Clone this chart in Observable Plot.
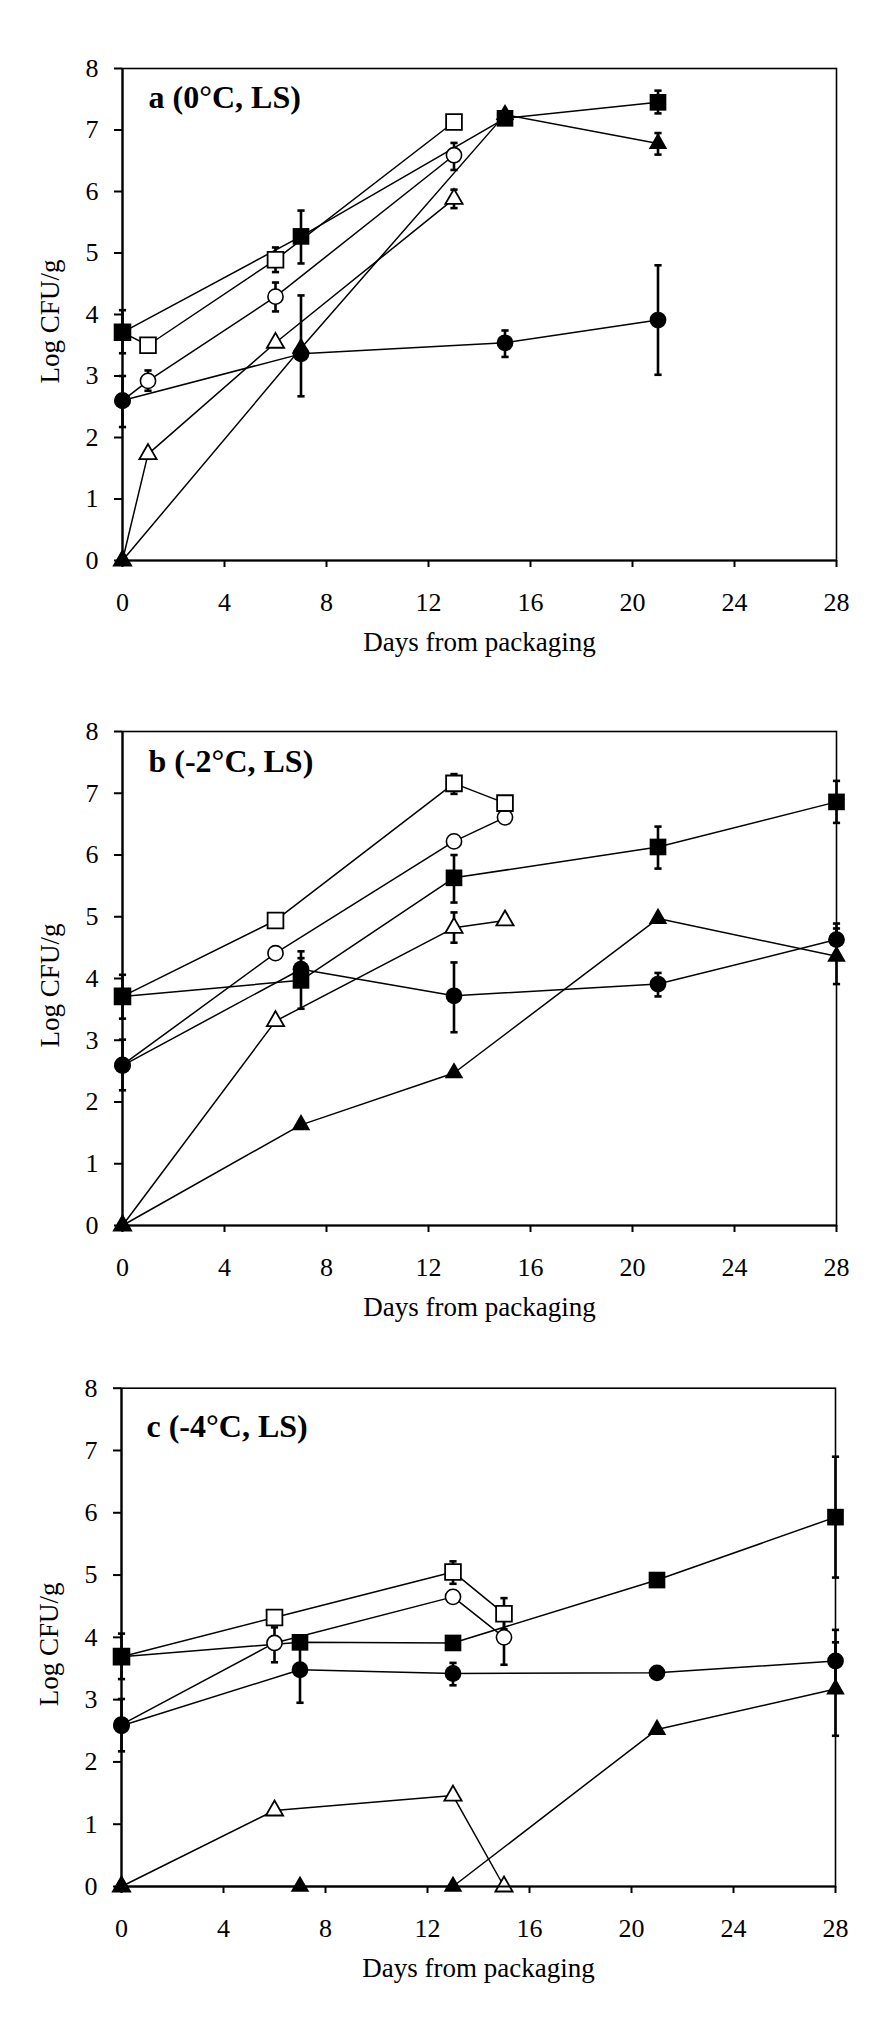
<!DOCTYPE html>
<html>
<head>
<meta charset="utf-8">
<script src="https://cdn.jsdelivr.net/npm/d3@7"></script>
<script src="https://cdn.jsdelivr.net/npm/@observablehq/plot@0.6"></script>
<style>
  html, body { margin: 0; padding: 0; background: #fff; }
  #chart svg { display: block; }
</style>
</head>
<body>
<div id="chart"></div>
<script>
// ---------- tick labels / texts ----------
const xTicks = [0, 4, 8, 12, 16, 20, 24, 28];
const yTicks = [0, 1, 2, 3, 4, 5, 6, 7, 8];
const xLabel = "Days from packaging";
const yLabel = "Log CFU/g";
const panelTitles = ["a (0°C, LS)", "b (-2°C, LS)", "c (-4°C, LS)"];

// ---------- data: [day, log CFU/g, error low, error high] ----------
// Panel a (0°C)
const a_openTriangle = [[0, 0], [1, 1.73], [6, 3.54], [13, 5.88, 5.73, 6.03]];
const a_openCircle   = [[0, 2.60], [1, 2.92, 2.76, 3.09], [6, 4.29, 4.05, 4.52], [13, 6.59, 6.35, 6.79]];
const a_openSquare   = [[0, 3.71], [1, 3.50], [6, 4.89, 4.69, 5.09], [13, 7.13]];
const a_filledTriangle = [[0, 0], [7, 3.45], [15, 7.25], [21, 6.78, 6.60, 6.95]];
const a_filledCircle = [[0, 2.60, 2.17, 3.00], [7, 3.36, 2.67, 4.31], [15, 3.54, 3.31, 3.74], [21, 3.91, 3.02, 4.80]];
const a_filledSquare = [[0, 3.71, 3.37, 4.07], [7, 5.27, 4.83, 5.69], [15, 7.19], [21, 7.45, 7.27, 7.64]];

// Panel b (-2°C)
const b_openTriangle = [[0, 0], [6, 3.31], [13, 4.82, 4.58, 5.07], [15, 4.94]];
const b_openCircle   = [[0, 2.60], [6, 4.41], [13, 6.22], [15, 6.61]];
const b_openSquare   = [[0, 3.71], [6, 4.94], [13, 7.16, 6.99, 7.31], [15, 6.84]];
const b_filledTriangle = [[0, 0], [7, 1.63], [13, 2.47], [21, 4.97], [28, 4.36, 3.91, 4.81]];
const b_filledCircle = [[0, 2.59, 2.19, 3.01], [7, 4.15, 4.00, 4.33], [13, 3.72, 3.13, 4.26], [21, 3.91, 3.71, 4.09], [28, 4.63, 4.37, 4.89]];
const b_filledSquare = [[0, 3.71, 3.35, 4.06], [7, 3.97, 3.51, 4.44], [13, 5.63, 5.23, 6.00], [21, 6.13, 5.78, 6.46], [28, 6.86, 6.52, 7.20]];

// Panel c (-4°C)
const c_openTriangle = [[0, 0], [6, 1.22], [13, 1.46], [15, 0]];
const c_openCircle   = [[0, 2.60], [6, 3.91, 3.60, 4.16], [13, 4.65], [15, 4.00, 3.56, 4.44]];
const c_openSquare   = [[0, 3.69], [6, 4.32], [13, 5.05, 4.86, 5.22], [15, 4.38, 4.13, 4.63]];
const c_filledTriangle = [[0, 0], [7, 0], [13, 0], [21, 2.52], [28, 3.17, 2.42, 3.92]];
const c_filledCircle = [[0, 2.58, 2.17, 3.01], [7, 3.48, 2.95, 4.01], [13, 3.42, 3.23, 3.59], [21, 3.43], [28, 3.62, 3.12, 4.12]];
const c_filledSquare = [[0, 3.69, 3.33, 4.06], [7, 3.92], [13, 3.91], [21, 4.92], [28, 5.93, 4.96, 6.90]];

const panels = [
  {title: panelTitles[0], series: {openTriangle: a_openTriangle, openCircle: a_openCircle, openSquare: a_openSquare, filledTriangle: a_filledTriangle, filledCircle: a_filledCircle, filledSquare: a_filledSquare}},
  {title: panelTitles[1], series: {openTriangle: b_openTriangle, openCircle: b_openCircle, openSquare: b_openSquare, filledTriangle: b_filledTriangle, filledCircle: b_filledCircle, filledSquare: b_filledSquare}},
  {title: panelTitles[2], series: {openTriangle: c_openTriangle, openCircle: c_openCircle, openSquare: c_openSquare, filledTriangle: c_filledTriangle, filledCircle: c_filledCircle, filledSquare: c_filledSquare}}
];

// ---------- styling (kept apart from the data) ----------
const drawOrder = ["openTriangle", "openCircle", "openSquare", "filledTriangle", "filledCircle", "filledSquare"];
const styles = {
  openTriangle:   {symbol: "triangle", r: 6.4, fill: "white", stroke: "black", sw: 1.8},
  openCircle:     {symbol: "circle",   r: 7.6, fill: "white", stroke: "black", sw: 1.6},
  openSquare:     {symbol: "square",   r: 8.9, fill: "white", stroke: "black", sw: 1.8},
  filledTriangle: {symbol: "triangle", r: 6.9, fill: "black", stroke: "none",  sw: 0},
  filledCircle:   {symbol: "circle",   r: 8.4, fill: "black", stroke: "none",  sw: 0},
  filledSquare:   {symbol: "square",   r: 9.4, fill: "black", stroke: "none",  sw: 0}
};
const layout = [
  {marginTop: 68,   marginBottom: 113, marginLeft: 122, marginRight: 60, titleDx: 26, titleDy: 17},
  {marginTop: 58,   marginBottom: 121, marginLeft: 122, marginRight: 60, titleDx: 26, titleDy: 18},
  {marginTop: 41.7, marginBottom: 133, marginLeft: 121, marginRight: 61, titleDx: 25, titleDy: 26}
];

const capSymbol = {
  draw(ctx, size) {
    const w = Math.sqrt(size / Math.PI);
    ctx.moveTo(-w, 0);
    ctx.lineTo(w, 0);
  }
};
const toRows = (arr) => arr.map(([day, v, lo, hi]) => ({day, v, lo, hi}));

function makePanel(p, m) {
  const marks = [];
  marks.push(Plot.frame({stroke: "black", strokeWidth: 1.6}));
  const data = {};
  for (const k of drawOrder) data[k] = toRows(p.series[k]);
  for (const k of drawOrder) {
    marks.push(Plot.line(data[k], {x: "day", y: "v", stroke: "black", strokeWidth: 1.5}));
  }
  for (const k of drawOrder) {
    const e = data[k].filter(d => d.lo != null);
    if (!e.length) continue;
    marks.push(Plot.ruleX(e, {x: "day", y1: "lo", y2: "hi", stroke: "black", strokeWidth: 2.6}));
    marks.push(Plot.dot(e, {x: "day", y: "lo", symbol: capSymbol, r: 3.6, stroke: "black", strokeWidth: 2.6, fill: "none"}));
    marks.push(Plot.dot(e, {x: "day", y: "hi", symbol: capSymbol, r: 3.6, stroke: "black", strokeWidth: 2.6, fill: "none"}));
  }
  for (const k of drawOrder) {
    const s = styles[k];
    marks.push(Plot.dot(data[k], {x: "day", y: "v", symbol: s.symbol, r: s.r, fill: s.fill, stroke: s.stroke, strokeWidth: s.sw}));
  }
  marks.push(Plot.ruleX([0], {stroke: "black", strokeWidth: 2.2}));
  marks.push(Plot.ruleY([0], {stroke: "black", strokeWidth: 2.2}));
  marks.push(Plot.axisX({ticks: xTicks, tickSize: 7, tickPadding: 25, strokeWidth: 2, label: null, tickFormat: d => String(d)}));
  marks.push(Plot.axisY({ticks: yTicks, tickSize: 8, tickPadding: 16, strokeWidth: 2, label: null, tickFormat: d => String(d)}));
  marks.push(Plot.text([p.title], {text: d => d, frameAnchor: "top-left", dx: m.titleDx, dy: m.titleDy, textAnchor: "start", lineAnchor: "top", fontSize: 32, fontWeight: "bold"}));
  marks.push(Plot.text([xLabel], {text: d => d, frameAnchor: "bottom", dy: 71, lineAnchor: "top", fontSize: 27}));
  marks.push(Plot.text([yLabel], {text: d => d, frameAnchor: "left", dx: -72, dy: 7, rotate: -90, textAnchor: "middle", lineAnchor: "middle", fontSize: 27}));

  return Plot.plot({
    width: 896,
    height: 673,
    marginTop: m.marginTop,
    marginBottom: m.marginBottom,
    marginLeft: m.marginLeft,
    marginRight: m.marginRight,
    style: {fontFamily: "'Liberation Serif', 'Times New Roman', serif", fontSize: "26px", color: "black", background: "white", overflow: "visible"},
    x: {domain: [0, 28]},
    y: {domain: [0, 8]},
    marks
  });
}

const root = document.getElementById("chart");
panels.forEach((p, i) => root.appendChild(makePanel(p, layout[i])));
</script>
</body>
</html>
